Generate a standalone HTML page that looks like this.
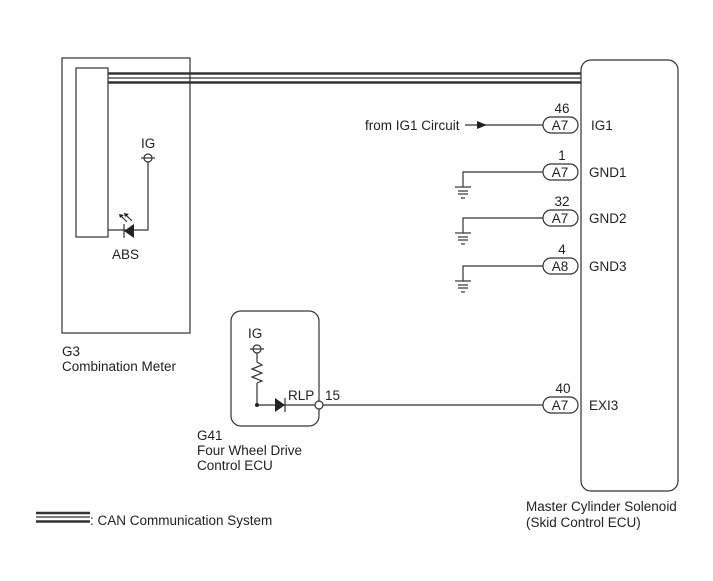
<!DOCTYPE html>
<html><head><style>
html,body{margin:0;padding:0;background:#fff;}
svg{display:block;}
text{font-family:"Liberation Sans",Arial,sans-serif;fill:#222;}
</style></head><body>
<svg width="713" height="581" viewBox="0 0 713 581" xmlns="http://www.w3.org/2000/svg">
<g stroke="#333" fill="none" stroke-width="1.2">
<rect x="62" y="58" width="128" height="275"/>
<rect x="76" y="68" width="32" height="169"/>
<line x1="108" y1="73.5" x2="581" y2="73.5" stroke-width="2.5"/>
<line x1="108" y1="78" x2="581" y2="78" stroke-width="1.2"/>
<line x1="108" y1="82.5" x2="581" y2="82.5" stroke-width="2.5"/>
<circle cx="148" cy="158" r="4"/>
<line x1="141" y1="158" x2="155" y2="158"/>
<polyline points="148,162 148,230 108,230"/>
<line x1="124" y1="224" x2="124" y2="238"/>
<rect x="581" y="60" width="97" height="431" rx="10"/>
<line x1="465" y1="125" x2="544" y2="125"/>
<polyline points="544,172 463,172 463,187"/>
<polyline points="544,218 463,218 463,233"/>
<polyline points="544,266 463,266 463,281"/>
<line x1="323" y1="405" x2="544" y2="405"/>
<rect x="231" y="311" width="88" height="115" rx="10"/>
<circle cx="257" cy="349" r="4"/>
<line x1="250" y1="349" x2="264" y2="349"/>
<line x1="257" y1="353" x2="257" y2="362"/>
<polyline points="257,362 262,365 252,369 262,373 252,377 262,381 257,383"/>
<line x1="257" y1="383" x2="257" y2="405"/>
<line x1="257" y1="405" x2="315" y2="405"/>
<line x1="285" y1="398" x2="285" y2="412"/>
<line x1="36" y1="513" x2="90" y2="513" stroke-width="2.5"/>
<line x1="36" y1="517" x2="90" y2="517"/>
<line x1="36" y1="521.5" x2="90" y2="521.5" stroke-width="2.5"/>
</g>
<g stroke="#333" stroke-width="1.2">
<line x1="455" y1="187" x2="471" y2="187"/><line x1="458" y1="191" x2="468" y2="191"/><line x1="458" y1="194" x2="468" y2="194"/><line x1="461" y1="198" x2="465" y2="198"/>
<line x1="455" y1="233" x2="471" y2="233"/><line x1="458" y1="237" x2="468" y2="237"/><line x1="458" y1="240" x2="468" y2="240"/><line x1="461" y1="244" x2="465" y2="244"/>
<line x1="455" y1="281" x2="471" y2="281"/><line x1="458" y1="285" x2="468" y2="285"/><line x1="458" y1="288" x2="468" y2="288"/><line x1="461" y1="292" x2="465" y2="292"/>
</g>
<polygon points="124,231 134,224 134,238" fill="#222"/>
<polygon points="285,405 275,398 275,412" fill="#222"/>
<circle cx="257" cy="405" r="2" fill="#222"/>
<circle cx="319" cy="405" r="4" fill="#fff" stroke="#333" stroke-width="1.2"/>
<g stroke="#333" stroke-width="1.2">
<line x1="127" y1="222" x2="120" y2="215"/><line x1="132" y1="221" x2="125" y2="214"/>
</g>
<polygon points="119,214 124,215 120,218" fill="#222"/>
<polygon points="124,213 129,214 125,217" fill="#222"/>
<polygon points="487,125 477,121 477,129" fill="#222"/>
<g fill="#fff" stroke="#333" stroke-width="1.2">
<rect x="543" y="117" width="35" height="16" rx="8"/>
<rect x="543" y="164" width="35" height="16" rx="8"/>
<rect x="543" y="210" width="35" height="16" rx="8"/>
<rect x="543" y="258" width="35" height="16" rx="8"/>
<rect x="543" y="397" width="35" height="16" rx="8"/>
</g>
<g font-size="13.5" text-anchor="middle">
<text x="560" y="130">A7</text><text x="560" y="177">A7</text><text x="560" y="223">A7</text><text x="560" y="271">A8</text><text x="560" y="410">A7</text>
<text x="562" y="113">46</text><text x="562" y="160">1</text><text x="562" y="206">32</text><text x="562" y="254">4</text><text x="563" y="393">40</text>
</g>
<g font-size="13.5">
<text x="591" y="130">IG1</text>
<text x="589" y="177">GND1</text>
<text x="589" y="223">GND2</text>
<text x="589" y="271">GND3</text>
<text x="589" y="410">EXI3</text>
<text x="365" y="130">from IG1 Circuit</text>
<text x="141" y="148">IG</text>
<text x="112" y="259">ABS</text>
<text x="62" y="356">G3</text>
<text x="62" y="371">Combination Meter</text>
<text x="248" y="338">IG</text>
<text x="288" y="400">RLP</text>
<text x="325" y="400">15</text>
<text x="197" y="440">G41</text>
<text x="197" y="455">Four Wheel Drive</text>
<text x="197" y="470">Control ECU</text>
<text x="526" y="511">Master Cylinder Solenoid</text>
<text x="526" y="527">(Skid Control ECU)</text>
<text x="90" y="525">: CAN Communication System</text>
</g>
</svg>
</body></html>
